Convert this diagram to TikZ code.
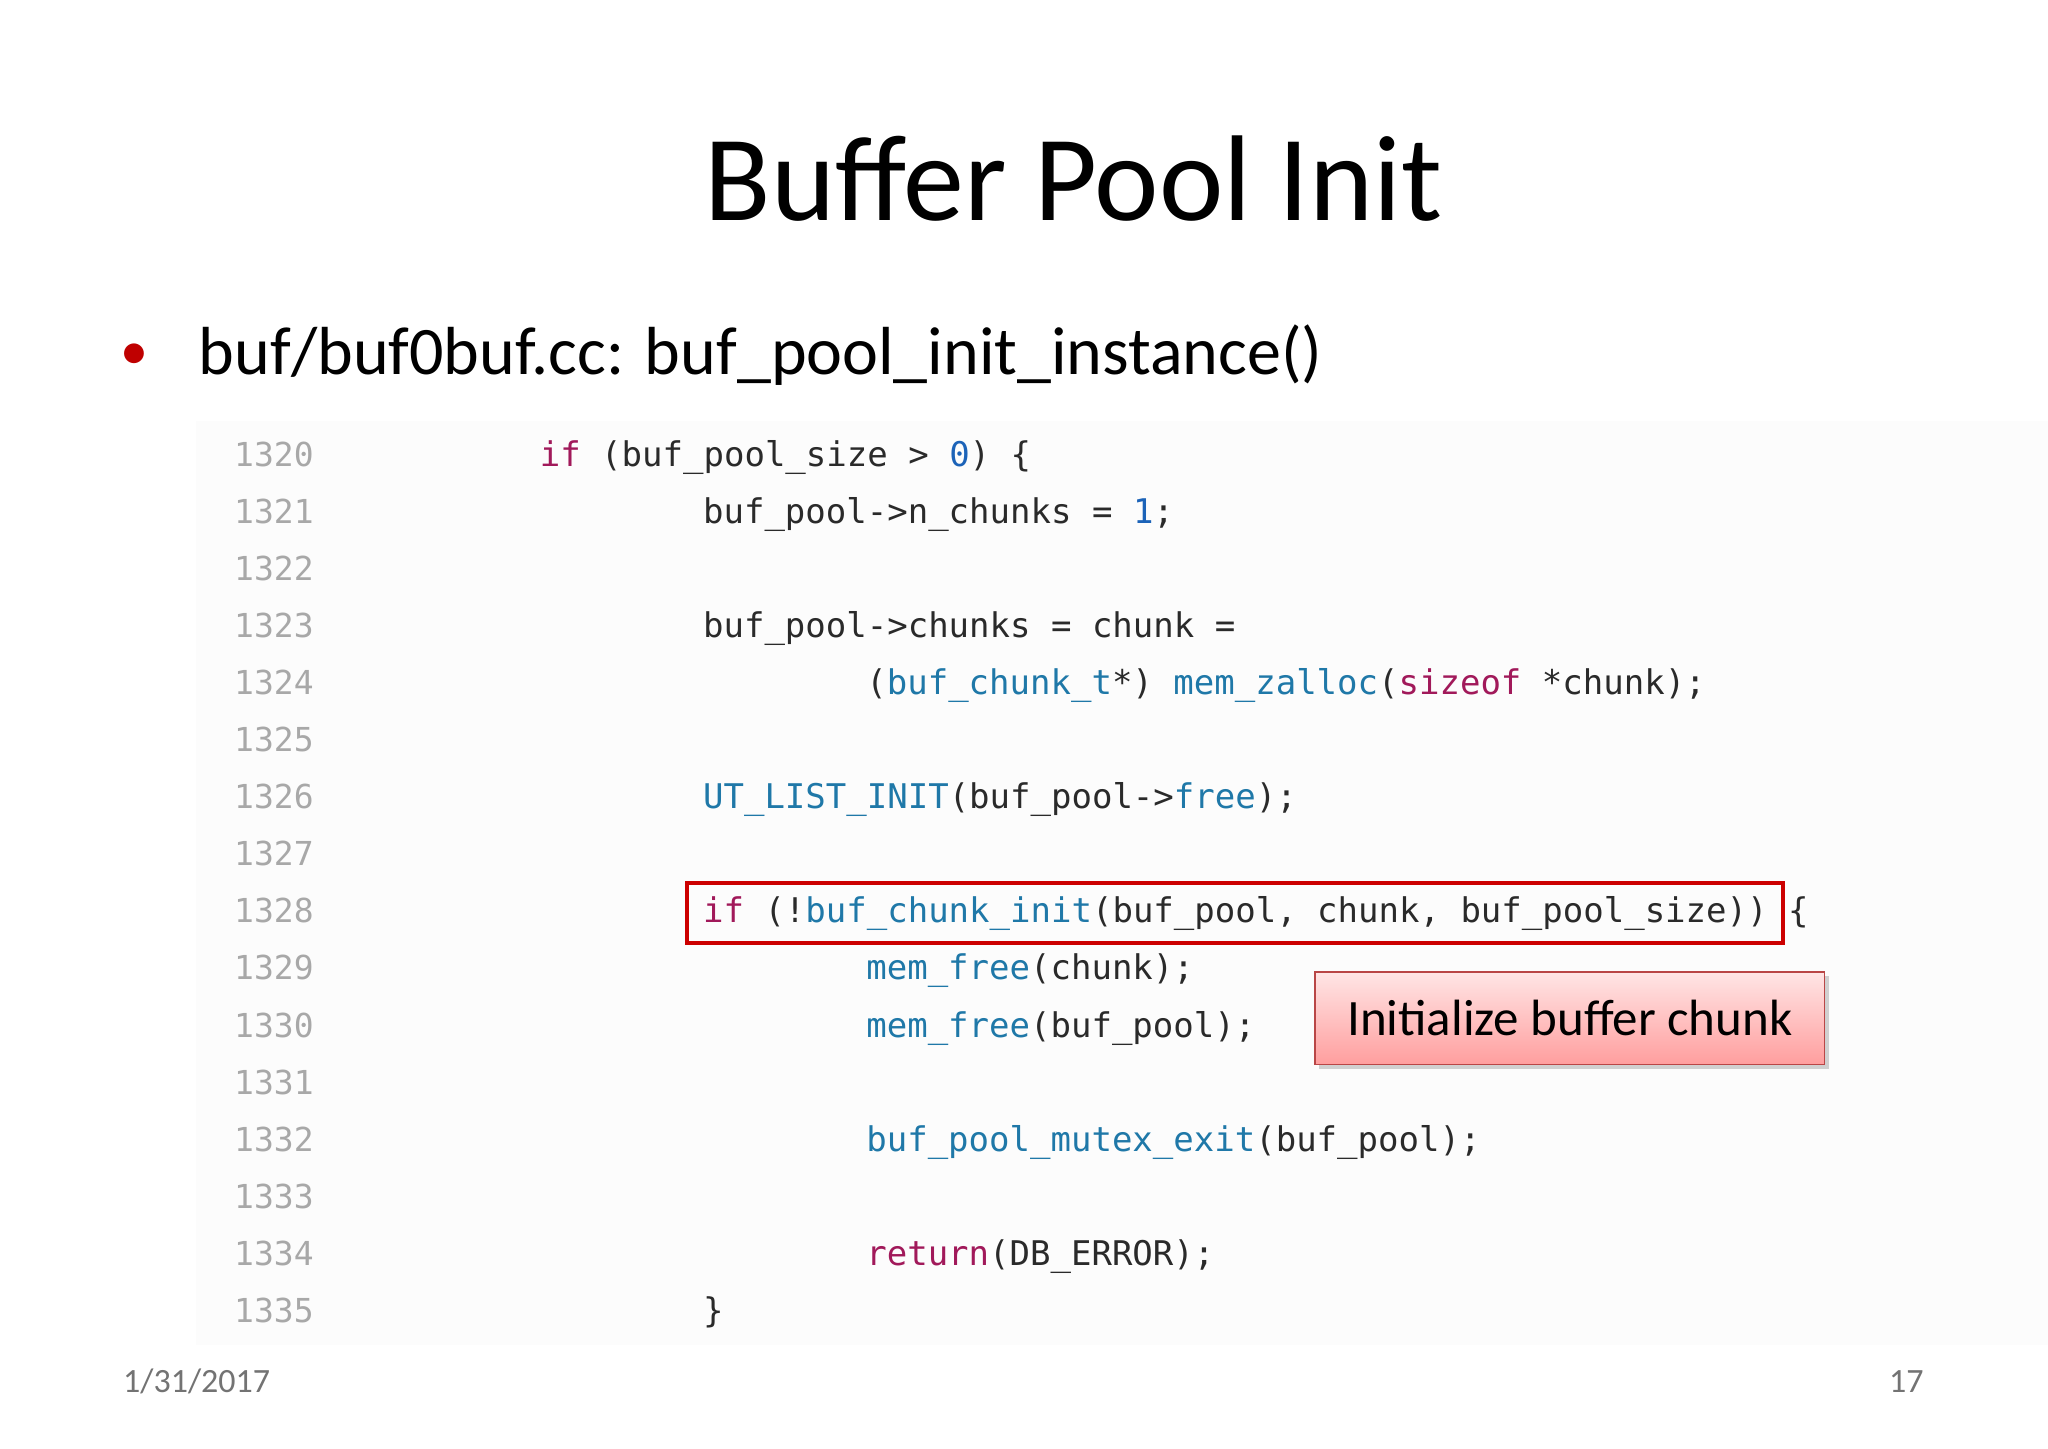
\documentclass[tikz,border=0pt]{standalone}
\usepackage{fontspec}
\setmainfont{Carlito}
\newfontfamily\codefont{DejaVu Sans Mono}[Scale=1.0]
\usetikzlibrary{shadows}
\definecolor{kw}{HTML}{A1195A}
\definecolor{fn}{HTML}{1F78A8}
\definecolor{num}{HTML}{1C63B8}
\definecolor{lno}{HTML}{A8A8A8}
\definecolor{txt}{HTML}{2A2A2A}
\newcommand{\K}[1]{\textcolor{kw}{#1}}
\newcommand{\F}[1]{\textcolor{fn}{#1}}
\newcommand{\N}[1]{\textcolor{num}{#1}}
\begin{document}
\begin{tikzpicture}[x=0.653pt,y=-0.653pt,
  code/.style={anchor=base west,inner sep=0pt,font=\codefont\fontsize{17}{18}\selectfont,text=txt},
  lnum/.style={anchor=base west,inner sep=0pt,font=\codefont\fontsize{16.5}{18}\selectfont,text=lno}]
\useasboundingbox (0,0) rectangle (1568,1109);
\fill[white] (0,0) rectangle (1568,1109);
\fill[black!1] (150,322) rectangle (1568,1030);
\node[anchor=base,inner sep=0pt,font=\fontsize{61}{66}\selectfont] (title) at (822,169) {Buffer Pool Init};
\node[anchor=base,inner sep=0pt,text=red!75!black,font=\fontsize{28}{32}\selectfont] (bul) at (103,283) {•};
\node[anchor=base west,inner sep=0pt,font=\fontsize{34}{38}\selectfont] (sub) at (152,287) {buf/buf0buf.cc: buf\_pool\_init\_instance()};
\foreach \i in {0,...,15}{
  \pgfmathtruncatemacro\n{1320+\i}
  \node[lnum] (l\i) at (179,{357+43.7*\i}) {\n};
}
\node[code] (c0) at (413,357) {\K{if} (buf\_pool\_size > \N{0}) \{};
\node[code] (c1) at (538,{357+43.7*1}) {buf\_pool->n\_chunks = \N{1};};
\node[code] (c3) at (538,{357+43.7*3}) {buf\_pool->chunks = chunk =};
\node[code] (c4) at (663,{357+43.7*4}) {(\F{buf\_chunk\_t}*) \F{mem\_zalloc}(\K{sizeof} *chunk);};
\node[code] (c6) at (538,{357+43.7*6}) {\F{UT\_LIST\_INIT}(buf\_pool->\F{free});};
\node[code] (c8) at (538,{357+43.7*8}) {\K{if} (!\F{buf\_chunk\_init}(buf\_pool, chunk, buf\_pool\_size)) \{};
\node[code] (c9) at (663,{357+43.7*9}) {\F{mem\_free}(chunk);};
\node[code] (c10) at (663,{357+43.7*10}) {\F{mem\_free}(buf\_pool);};
\node[code] (c12) at (663,{357+43.7*12}) {\F{buf\_pool\_mutex\_exit}(buf\_pool);};
\node[code] (c14) at (663,{357+43.7*14}) {\K{return}(DB\_ERROR);};
\node[code] (c15) at (538,{357+43.7*15}) {\}};
\draw[red!80!black,line width=1.8pt] (526,676) rectangle (1365,722);
\node[draw=red!45!gray,line width=0.8pt,top color=red!10,bottom color=red!38,
  drop shadow={opacity=0.35,shadow xshift=2pt,shadow yshift=-2pt},
  minimum width=390*0.653pt,minimum height=71*0.653pt,inner sep=0pt,
  font=\fontsize{25.5}{28}\selectfont] (lab) at (1202,779.5) {Initialize buffer chunk};
\node[anchor=base west,inner sep=0pt,text=black!55,font=\fontsize{17}{19}\selectfont] (date) at (94,1066) {1/31/2017};
\node[anchor=base east,inner sep=0pt,text=black!55,font=\fontsize{17}{19}\selectfont] (page) at (1473,1066) {17};
\end{tikzpicture}
\end{document}
